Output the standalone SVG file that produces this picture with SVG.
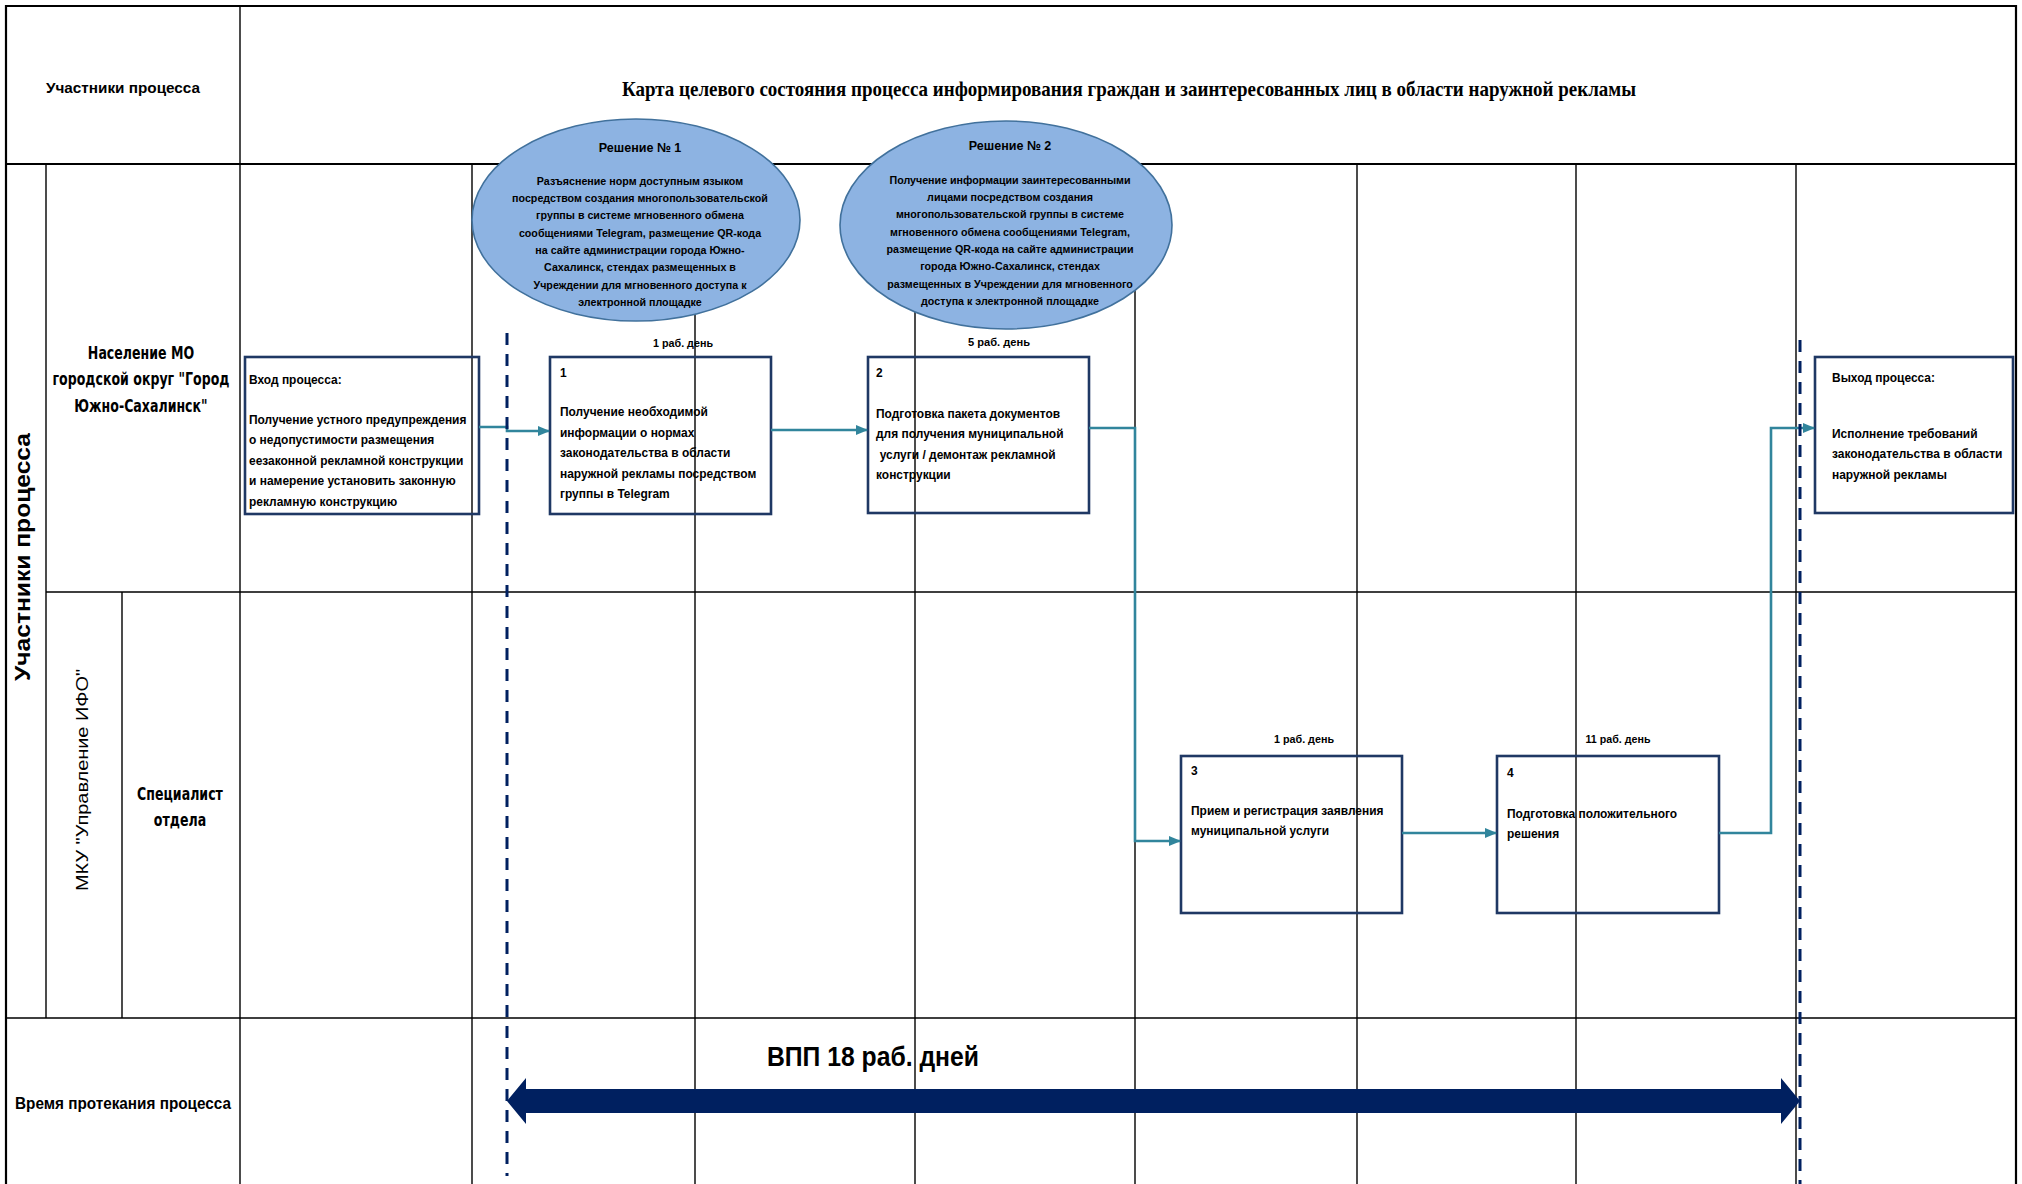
<svg xmlns="http://www.w3.org/2000/svg" width="2022" height="1184" viewBox="0 0 2022 1184">
<defs>
<style>
.grid{stroke:#000;stroke-width:1.4;fill:none}
.frame{stroke:#000;stroke-width:2.2;fill:none}
.box{fill:none;stroke:#1f3864;stroke-width:2.6}
.t{font-family:"Liberation Sans",Arial,sans-serif;font-weight:bold;fill:#000}
.bt{font-size:13px}
.et{font-size:11.5px;text-anchor:middle}
.eh{font-size:13.5px;text-anchor:middle}
.day{font-size:11.5px;text-anchor:middle}
.lane{font-family:"DejaVu Sans",Verdana,sans-serif;font-weight:bold;font-size:17px;text-anchor:middle;fill:#000}
.conn{fill:none;stroke:#31859c;stroke-width:2.6}
.dash{stroke:#002060;stroke-width:3;stroke-dasharray:12 9;fill:none}
.ell{fill:#8db3e2;stroke:#41719c;stroke-width:1.6}
</style>
<marker id="ah" markerUnits="userSpaceOnUse" markerWidth="12" markerHeight="10" refX="11" refY="5" orient="auto"><path d="M0,0 L12,5 L0,10 z" fill="#31859c"/></marker>
</defs>
<rect width="2022" height="1184" fill="#fff"/>

<g id="grid">
<path class="frame" d="M6,1184 V6 H2016 V1184"/>
<path class="frame" d="M6,164 H2016"/>
<path class="grid" d="M46,592 H2016 M6,1018 H2016"/>
<path class="grid" d="M46,164 V1018 M122,592 V1018 M240,6 V1184"/>
<path class="grid" d="M472,164 V1184 M695,164 V1184 M915,164 V1184 M1135,164 V1184 M1357,164 V1184 M1576,164 V1184 M1796,164 V1184"/>
</g>

<g id="headers">
<text class="t" x="123" y="93" font-size="15" text-anchor="middle" textLength="154" lengthAdjust="spacingAndGlyphs">Участники процесса</text>
<text x="622" y="96" font-family="Liberation Serif,'Times New Roman',serif" font-weight="bold" font-size="21" textLength="1014" lengthAdjust="spacingAndGlyphs">Карта целевого состояния процесса информирования граждан и заинтересованных лиц в области наружной рекламы</text>
<text class="t" transform="translate(30 557) rotate(-90)" font-size="22" text-anchor="middle" textLength="248" lengthAdjust="spacingAndGlyphs">Участники процесса</text>
<g transform="translate(141 0) scale(0.74 1)"><text class="lane"><tspan x="0" y="359">Население МО</tspan><tspan x="0" y="385">городской округ "Город</tspan><tspan x="0" y="412">Южно-Сахалинск"</tspan></text></g>
<text transform="translate(88 780) rotate(-90)" font-family="Liberation Sans,Arial,sans-serif" font-size="16" text-anchor="middle" textLength="222" lengthAdjust="spacingAndGlyphs">МКУ "Управление ИФО"</text>
<g transform="translate(180 0) scale(0.74 1)"><text class="lane"><tspan x="0" y="800">Специалист</tspan><tspan x="0" y="826">отдела</tspan></text></g>
<text class="t" x="123" y="1109" font-size="16" text-anchor="middle" textLength="216" lengthAdjust="spacingAndGlyphs">Время протекания процесса</text>
</g>

<g id="node-entry">
<rect class="box" x="245" y="357" width="234" height="157"/>
<g transform="translate(249 0) scale(0.92 1)"><text class="t bt"><tspan x="0" y="384">Вход процесса:</tspan><tspan x="0" y="424">Получение устного предупреждения</tspan><tspan x="0" y="444.5">о недопустимости размещения</tspan><tspan x="0" y="465">еезаконной рекламной конструкции</tspan><tspan x="0" y="485.5">и намерение установить законную</tspan><tspan x="0" y="506">рекламную конструкцию</tspan></text></g>
</g>

<g id="node-1">
<rect class="box" x="550" y="357" width="221" height="157"/>
<text class="t day" x="683" y="347" textLength="60" lengthAdjust="spacingAndGlyphs">1 раб. день</text>
<g transform="translate(560 0) scale(0.92 1)"><text class="t bt"><tspan x="0" y="377">1</tspan><tspan x="0" y="416.5">Получение необходимой</tspan><tspan x="0" y="437">информации о нормах</tspan><tspan x="0" y="457.5">законодательства в области</tspan><tspan x="0" y="478">наружной рекламы посредством</tspan><tspan x="0" y="498.5">группы в Telegram</tspan></text></g>
</g>

<g id="node-2">
<rect class="box" x="868" y="357" width="221" height="156"/>
<text class="t day" x="999" y="346" textLength="62" lengthAdjust="spacingAndGlyphs">5 раб. день</text>
<g transform="translate(876 0) scale(0.92 1)"><text class="t bt"><tspan x="0" y="377">2</tspan><tspan x="0" y="418">Подготовка пакета документов</tspan><tspan x="0" y="438.5">для получения муниципальной</tspan><tspan x="4" y="459">услуги / демонтаж рекламной</tspan><tspan x="0" y="479">конструкции</tspan></text></g>
</g>

<g id="node-3">
<rect class="box" x="1181" y="756" width="221" height="157"/>
<text class="t day" x="1304" y="743" textLength="60" lengthAdjust="spacingAndGlyphs">1 раб. день</text>
<g transform="translate(1191 0) scale(0.92 1)"><text class="t bt"><tspan x="0" y="775">3</tspan><tspan x="0" y="815">Прием и регистрация заявления</tspan><tspan x="0" y="835.5">муниципальной услуги</tspan></text></g>
</g>

<g id="node-4">
<rect class="box" x="1497" y="756" width="222" height="157"/>
<text class="t day" x="1618" y="743" textLength="65" lengthAdjust="spacingAndGlyphs">11 раб. день</text>
<g transform="translate(1507 0) scale(0.92 1)"><text class="t bt"><tspan x="0" y="777">4</tspan><tspan x="0" y="818">Подготовка положительного</tspan><tspan x="0" y="838.5">решения</tspan></text></g>
</g>

<g id="node-exit">
<rect class="box" x="1815" y="357" width="198" height="156"/>
<g transform="translate(1832 0) scale(0.92 1)"><text class="t bt"><tspan x="0" y="382">Выход процесса:</tspan><tspan x="0" y="438">Исполнение требований</tspan><tspan x="0" y="458.5">законодательства в области</tspan><tspan x="0" y="479">наружной рекламы</tspan></text></g>
</g>

<g id="connectors">
<path class="conn" d="M479,427 H507 V431 H549" marker-end="url(#ah)"/>
<path class="conn" d="M771,430 H867" marker-end="url(#ah)"/>
<path class="conn" d="M1089,428 H1135 V841 H1180" marker-end="url(#ah)"/>
<path class="conn" d="M1402,833 H1496" marker-end="url(#ah)"/>
<path class="conn" d="M1719,833 H1771 V428 H1814" marker-end="url(#ah)"/>
</g>

<g id="timeline">
<path class="dash" d="M507,333 V1176"/>
<path class="dash" d="M1800,340 V1184"/>
<polygon points="507,1101 526,1078 526,1089 1781,1089 1781,1078 1800,1101 1781,1124 1781,1113 526,1113 526,1124" fill="#002060"/>
<text class="t" x="873" y="1066" font-size="28" text-anchor="middle" textLength="212" lengthAdjust="spacingAndGlyphs">ВПП 18 раб. дней</text>
</g>

<g id="solution-1">
<ellipse class="ell" cx="636" cy="220" rx="164" ry="101"/>
<g transform="translate(640 0) scale(0.93 1)"><text class="t eh" x="0" y="152">Решение № 1</text><text class="t et"><tspan x="0" y="185">Разъяснение норм доступным языком</tspan><tspan x="0" y="202">посредством создания многопользовательской</tspan><tspan x="0" y="219">группы в системе мгновенного обмена</tspan><tspan x="0" y="237">сообщениями Telegram, размещение QR-кода</tspan><tspan x="0" y="254">на сайте администрации города Южно-</tspan><tspan x="0" y="271">Сахалинск, стендах размещенных в</tspan><tspan x="0" y="289">Учреждении для мгновенного доступа к</tspan><tspan x="0" y="306">электронной площадке</tspan></text></g>
</g>

<g id="solution-2">
<ellipse class="ell" cx="1006" cy="225" rx="166" ry="104"/>
<g transform="translate(1010 0) scale(0.93 1)"><text class="t eh" x="0" y="150">Решение № 2</text><text class="t et"><tspan x="0" y="184">Получение информации заинтересованными</tspan><tspan x="0" y="201">лицами посредством создания</tspan><tspan x="0" y="218">многопользовательской группы в системе</tspan><tspan x="0" y="236">мгновенного обмена сообщениями Telegram,</tspan><tspan x="0" y="253">размещение QR-кода на сайте администрации</tspan><tspan x="0" y="270">города Южно-Сахалинск, стендах</tspan><tspan x="0" y="288">размещенных в Учреждении для мгновенного</tspan><tspan x="0" y="305">доступа к электронной площадке</tspan></text></g>
</g>
</svg>
